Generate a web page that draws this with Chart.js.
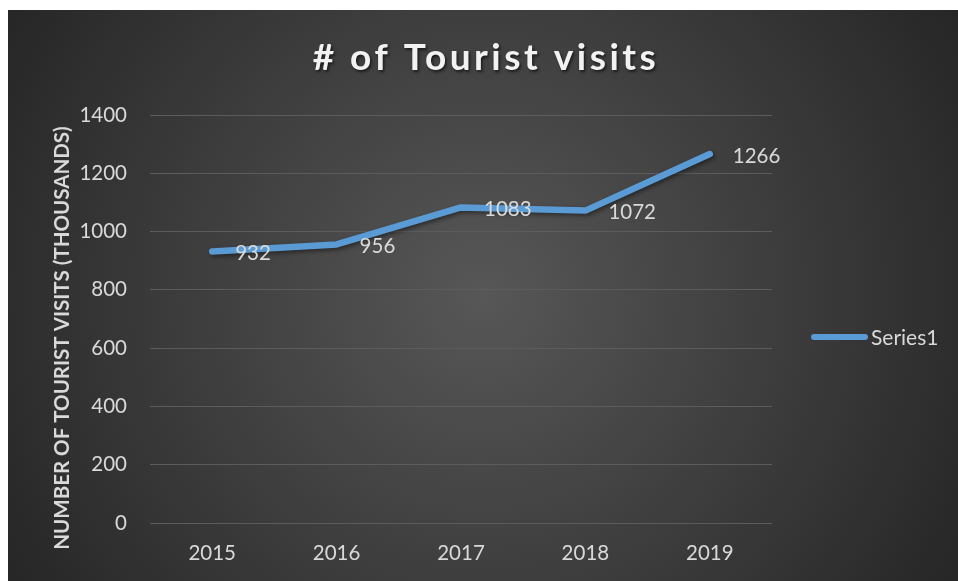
<!DOCTYPE html>
<html>
<head>
<meta charset="utf-8">
<script src="https://cdn.jsdelivr.net/npm/chart.js@4/dist/chart.umd.min.js"></script>
<style>
  html, body { margin: 0; padding: 0; background: #ffffff; }
  canvas { display: block; }
</style>
</head>
<body>
<canvas id="chart" width="958" height="581"></canvas>
<script>
// Tourist visits per year, in thousands
const years = ['2015', '2016', '2017', '2018', '2019'];
const visits = [932, 956, 1083, 1072, 1266];
const seriesName = 'Series1';
const yTicks = [0, 200, 400, 600, 800, 1000, 1200, 1400];
const chartTitle = '# of Tourist visits';
const yAxisTitle = 'NUMBER OF TOURIST VISITS (THOUSANDS)';

const TEXT = '#d9d9d9';
const LINE = '#5b9bd5';
const FONT = 'Lato, "Open Sans", sans-serif';

// Dark radial backdrop inside a thin white margin
const backdrop = {
  id: 'backdrop',
  beforeDraw(chart) {
    const { ctx, width, height } = chart;
    const x0 = 8, y0 = 10;
    ctx.save();
    ctx.fillStyle = '#ffffff';
    ctx.fillRect(0, 0, width, height);
    const cx = (x0 + width) / 2, cy = (y0 + height) / 2;
    const g = ctx.createRadialGradient(cx, cy, 0, cx, cy, Math.hypot(width - x0, height - y0) / 2);
    g.addColorStop(0, '#575757');
    g.addColorStop(1, '#262626');
    ctx.fillStyle = g;
    ctx.fillRect(x0, y0, width - x0, height - y0);
    ctx.restore();
  }
};

// Heading and rotated value-axis caption
const captions = {
  id: 'captions',
  afterDraw(chart) {
    const { ctx, width, chartArea } = chart;
    ctx.save();
    ctx.font = 'bold 37px ' + FONT;
    ctx.letterSpacing = '3.5px';
    ctx.fillStyle = '#f2f2f2';
    ctx.textAlign = 'center';
    ctx.textBaseline = 'alphabetic';
    ctx.shadowColor = 'rgba(0,0,0,0.6)';
    ctx.shadowBlur = 3;
    ctx.shadowOffsetX = 1.5;
    ctx.shadowOffsetY = 1.5;
    ctx.fillText(chartTitle, (8 + width) / 2 + 3, 70);
    ctx.restore();

    ctx.save();
    ctx.font = 'bold 20.5px ' + FONT;
    ctx.fillStyle = TEXT;
    ctx.textAlign = 'center';
    ctx.textBaseline = 'middle';
    ctx.translate(62, (chartArea.top + chartArea.bottom) / 2 + 19);
    ctx.rotate(-Math.PI / 2);
    ctx.fillText(yAxisTitle, 0, 0);
    ctx.restore();
  }
};

// Soft shadow under the series line
const lineShadow = {
  id: 'lineShadow',
  beforeDatasetDraw(chart) {
    const ctx = chart.ctx;
    ctx.save();
    ctx.shadowColor = 'rgba(0,0,0,0.45)';
    ctx.shadowBlur = 4;
    ctx.shadowOffsetX = 2;
    ctx.shadowOffsetY = 2;
  },
  afterDatasetDraw(chart) {
    chart.ctx.restore();
  }
};

// Value labels placed to the right of each point
const valueLabels = {
  id: 'valueLabels',
  afterDatasetsDraw(chart) {
    const { ctx } = chart;
    const meta = chart.getDatasetMeta(0);
    const data = chart.data.datasets[0].data;
    ctx.save();
    ctx.font = '20.5px ' + FONT;
    ctx.fillStyle = TEXT;
    ctx.textAlign = 'left';
    ctx.textBaseline = 'middle';
    meta.data.forEach((pt, i) => {
      ctx.fillText(String(data[i]), pt.x + 23, pt.y + 2);
    });
    ctx.restore();
  }
};

// Legend entry to the right of the plot
const sideLegend = {
  id: 'sideLegend',
  afterDraw(chart) {
    const { ctx, chartArea } = chart;
    const ds = chart.data.datasets[0];
    const y = (chartArea.top + chartArea.bottom) / 2 + 18;
    const x = chartArea.right + 42;
    ctx.save();
    ctx.strokeStyle = ds.borderColor;
    ctx.lineWidth = 6;
    ctx.lineCap = 'round';
    ctx.beginPath();
    ctx.moveTo(x, y);
    ctx.lineTo(x + 51, y);
    ctx.stroke();
    ctx.font = '21px ' + FONT;
    ctx.fillStyle = TEXT;
    ctx.textAlign = 'left';
    ctx.textBaseline = 'middle';
    ctx.fillText(ds.label, x + 57, y + 1);
    ctx.restore();
  }
};

new Chart(document.getElementById('chart'), {
  type: 'line',
  data: {
    labels: years,
    datasets: [{
      label: seriesName,
      data: visits,
      borderColor: LINE,
      backgroundColor: LINE,
      borderWidth: 6.5,
      borderCapStyle: 'round',
      borderJoinStyle: 'round',
      pointRadius: 0,
      pointHoverRadius: 0,
      tension: 0,
      fill: false
    }]
  },
  options: {
    responsive: false,
    animation: false,
    events: [],
    layout: { padding: { left: 8, top: 115, right: 186, bottom: 18 } },
    plugins: {
      legend: { display: false },
      title: { display: false },
      tooltip: { enabled: false }
    },
    scales: {
      x: {
        offset: true,
        grid: { display: false, drawTicks: false },
        border: { display: false },
        ticks: { color: TEXT, font: { family: FONT, size: 20.5 }, padding: 18, maxRotation: 0 },
        afterFit(s) { s.height = 40; }
      },
      y: {
        min: 0,
        max: 1400,
        afterBuildTicks(s) { s.ticks = yTicks.map(v => ({ value: v })); },
        grid: { color: '#5c5c5c', lineWidth: 1, drawTicks: false },
        border: { display: false },
        ticks: {
          color: TEXT,
          font: { family: FONT, size: 20.5 },
          padding: 23,
          callback: v => String(v)
        },
        afterFit(s) { s.width = 142; }
      }
    }
  },
  plugins: [backdrop, lineShadow, valueLabels, captions, sideLegend]
});
</script>
</body>
</html>
